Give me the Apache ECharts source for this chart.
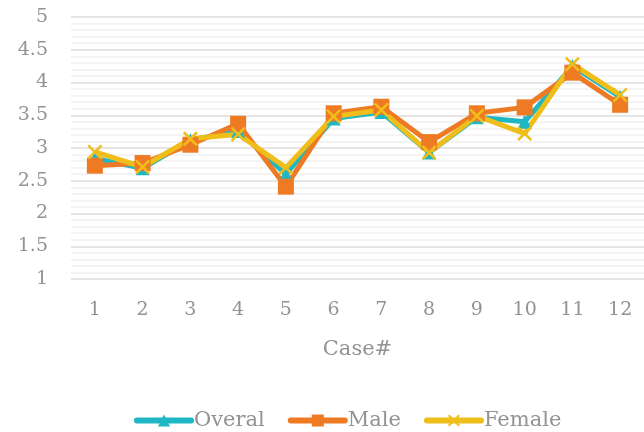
<!DOCTYPE html>
<html>
<head>
<meta charset="utf-8">
<script src="https://cdn.jsdelivr.net/npm/echarts@6/dist/echarts.min.js"></script>
<style>
  html, body { margin: 0; padding: 0; background: #fff; }
  #chart { width: 644px; height: 432px; }
</style>
</head>
<body>
<div id="chart"></div>
<script>
var cases = ['1', '2', '3', '4', '5', '6', '7', '8', '9', '10', '11', '12'];
var overal = [2.84, 2.69, 3.12, 3.26, 2.6, 3.45, 3.55, 2.93, 3.47, 3.4, 4.25, 3.78];
var male = [2.73, 2.77, 3.05, 3.37, 2.41, 3.53, 3.63, 3.09, 3.53, 3.62, 4.15, 3.66];
var female = [2.94, 2.71, 3.14, 3.21, 2.7, 3.48, 3.58, 2.93, 3.49, 3.22, 4.28, 3.81];
var yTicks = ['1', '1.5', '2', '2.5', '3', '3.5', '4', '4.5', '5'];

var font = 'DejaVu Serif';
var grey = '#939393';
var xMark = 'path://M0,1.2L1.2,0L5,3.8L8.8,0L10,1.2L6.2,5L10,8.8L8.8,10L5,6.2L1.2,10L0,8.8L3.8,5Z';

var chart = echarts.init(document.getElementById('chart'));
chart.setOption({
  animation: false,
  grid: { left: 71, right: -8, top: 17, bottom: 153 },
  xAxis: {
    type: 'category',
    data: cases,
    name: 'Case#',
    nameLocation: 'middle',
    nameGap: 60,
    nameTextStyle: { color: grey, fontFamily: font, fontSize: 21 },
    axisLine: { show: false },
    axisTick: { show: false },
    axisLabel: { margin: 22, color: grey, fontFamily: font, fontSize: 19 }
  },
  yAxis: {
    type: 'value',
    min: 1,
    max: 5,
    interval: 0.5,
    axisLine: { show: false },
    axisTick: { show: false },
    axisLabel: {
      margin: 23, color: grey, fontFamily: font, fontSize: 19,
      formatter: function (v) { return yTicks[Math.round((v - 1) * 2)]; }
    },
    splitLine: { lineStyle: { color: '#dcdcdc', width: 1.5 } },
    minorTick: { show: false, splitNumber: 5 },
    minorSplitLine: { show: true, lineStyle: { color: '#f1f1f1', width: 1.5 } }
  },
  legend: {
    top: 405,
    left: 129,
    itemWidth: 54,
    itemHeight: 15,
    itemGap: 23,
    lineStyle: { width: 6, cap: 'round' },
    textStyle: { color: grey, fontFamily: font, fontSize: 21, padding: [0, 0, 0, -2] },
    data: ['Overal', 'Male', 'Female']
  },
  series: [
    {
      name: 'Overal', type: 'line', data: overal,
      symbol: 'triangle', symbolSize: 14,
      lineStyle: { width: 5, color: '#1fb7c3' },
      itemStyle: { color: '#1fb7c3' }
    },
    {
      name: 'Male', type: 'line', data: male,
      symbol: 'rect', symbolSize: 16,
      lineStyle: { width: 5, color: '#ee7b23' },
      itemStyle: { color: '#ee7b23' }
    },
    {
      name: 'Female', type: 'line', data: female,
      symbol: xMark, symbolSize: 15,
      lineStyle: { width: 5, color: '#f0be1a' },
      itemStyle: { color: '#f0be1a' }
    }
  ]
});
</script>
</body>
</html>
